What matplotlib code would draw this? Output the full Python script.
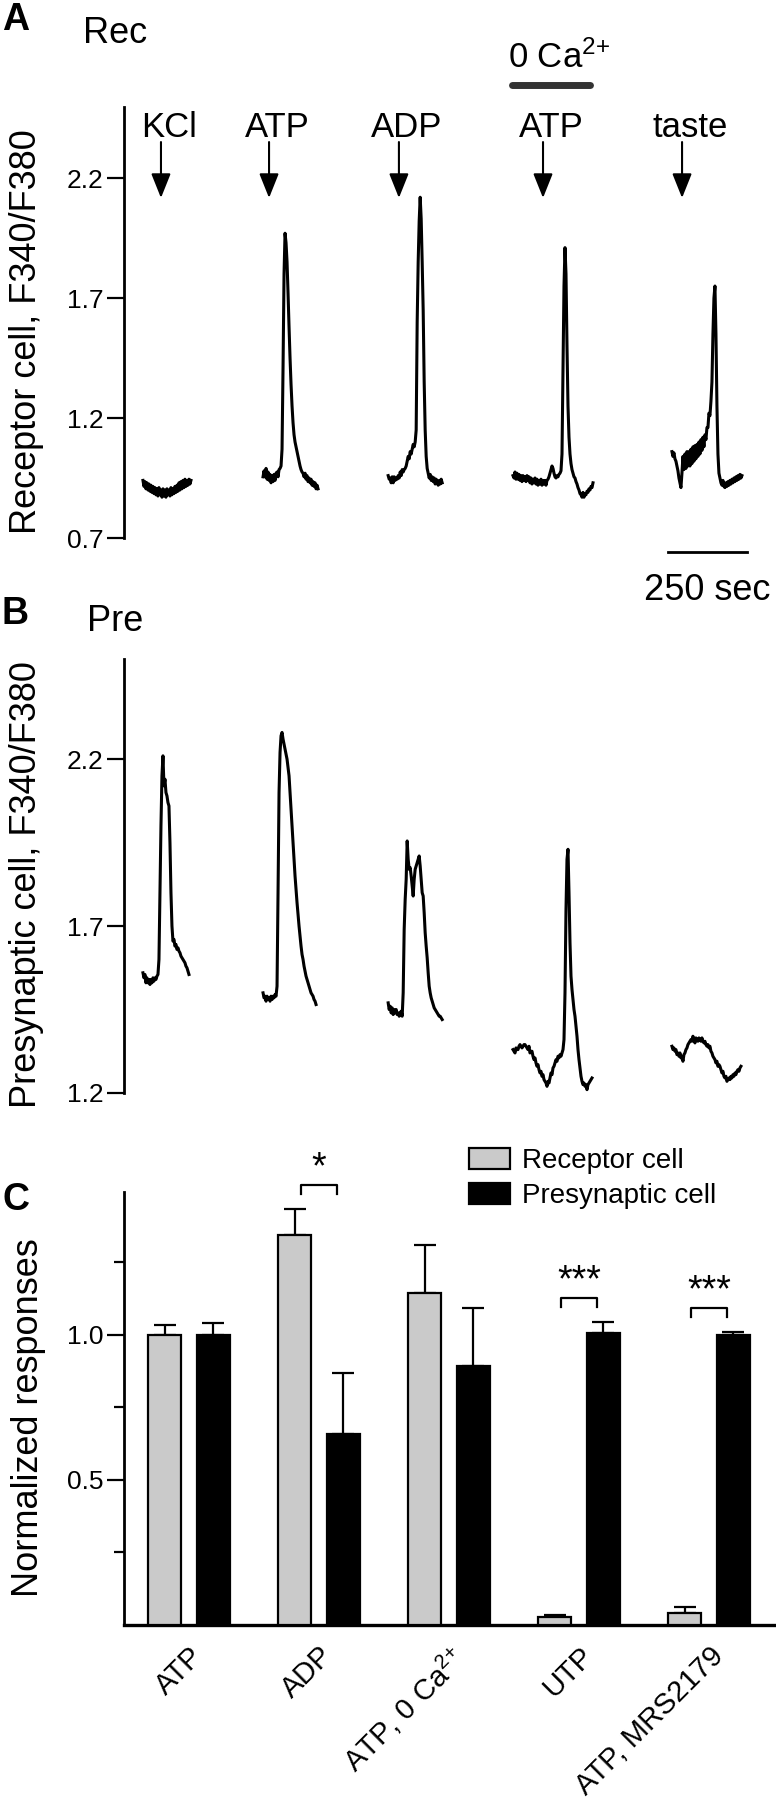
import numpy as np
import matplotlib
matplotlib.use('Agg')
import matplotlib.pyplot as plt

plt.rcParams['font.family'] = ['Liberation Sans', 'DejaVu Sans']
plt.rcParams['mathtext.fontset'] = 'custom'
plt.rcParams['mathtext.rm'] = 'Liberation Sans'
plt.rcParams['mathtext.it'] = 'Liberation Sans:italic'
plt.rcParams['mathtext.bf'] = 'Liberation Sans:bold'

# ---------------- data ----------------
SAMPLE_S = 250 / 79.0           # seconds between samples of the traces
stim_labels = ['KCl', 'ATP', 'ADP', 'ATP', 'taste']
stim_times = [117, 459, 870, 1326, 1766]        # s, arrow positions
trace_starts = [60, 440, 836, 1231, 1734]       # s, start of each trace
zero_ca_period = [1228, 1475]                   # s
scale_bar = [1722, 1972]                        # 250 s

# Receptor cell F340/F380 traces (panel A)
rec_kcl = [0.94, 0.915, 0.935, 0.905, 0.93, 0.90, 0.925, 0.895, 0.92, 0.89, 0.915, 0.885, 0.91, 0.88,
           0.905, 0.875, 0.91, 0.88, 0.90, 0.87, 0.905, 0.875, 0.90, 0.87, 0.905, 0.88, 0.90, 0.875,
           0.91, 0.88, 0.905, 0.885, 0.915, 0.89, 0.92, 0.895, 0.93, 0.90, 0.935, 0.905, 0.94, 0.91,
           0.945, 0.915, 0.94, 0.92, 0.945, 0.925, 0.94]
rec_atp = [0.955, 0.98, 0.955, 0.99, 0.945, 0.975, 0.94, 0.965, 0.93, 0.96, 0.935, 0.965, 0.94, 0.97,
           0.975, 0.955, 0.985, 0.99, 1.00, 1.07, 1.41, 1.80, 1.97, 1.93, 1.85, 1.72, 1.58, 1.45, 1.34,
           1.25, 1.18, 1.13, 1.10, 1.08, 1.06, 1.04, 1.02, 1.00, 0.985, 0.975, 0.97, 0.955, 0.97, 0.945,
           0.96, 0.935, 0.95, 0.93, 0.945, 0.92, 0.935, 0.915, 0.93, 0.905, 0.92, 0.905]
rec_adp = [0.96, 0.945, 0.95, 0.93, 0.955, 0.93, 0.955, 0.94, 0.95, 0.945, 0.96, 0.95, 0.975, 0.96,
           0.985, 0.975, 0.985, 0.99, 1.00, 1.02, 1.04, 1.03, 1.06, 1.05, 1.07, 1.09, 1.08, 1.10, 1.15,
           1.60, 1.85, 2.02, 2.12, 2.03, 1.85, 1.65, 1.35, 1.15, 1.04, 0.99, 0.97, 0.95, 0.965, 0.94,
           0.955, 0.935, 0.95, 0.925, 0.945, 0.93, 0.92, 0.94, 0.925, 0.945, 0.93]
rec_atp_0ca = [0.96, 0.95, 0.975, 0.945, 0.97, 0.945, 0.965, 0.94, 0.96, 0.935, 0.96, 0.94, 0.955, 0.935,
               0.96, 0.94, 0.955, 0.93, 0.95, 0.925, 0.945, 0.93, 0.95, 0.925, 0.945, 0.92, 0.94,
               0.925, 0.945, 0.92, 0.94, 0.925, 0.94, 0.92, 0.94, 0.945, 0.955, 0.97, 0.985, 1.00,
               0.99, 0.97, 0.955, 0.95, 0.96, 0.955, 0.965, 0.97, 0.98, 1.05, 1.40, 1.75, 1.91, 1.80,
               1.50, 1.25, 1.12, 1.05, 1.01, 0.985, 0.97, 0.955, 0.95, 0.935, 0.925, 0.91, 0.90, 0.885,
               0.88, 0.87, 0.89, 0.87, 0.885, 0.88, 0.895, 0.89, 0.905, 0.9, 0.915, 0.91, 0.93]
rec_taste = [1.06, 1.04, 1.055, 1.03, 1.02, 1.00, 0.98, 0.95, 0.93, 0.91, 0.97, 1.04, 0.985, 1.05, 0.99,
             1.06, 1.00, 1.06, 1.00, 1.07, 1.01, 1.08, 1.02, 1.085, 1.03, 1.09, 1.04, 1.10, 1.05, 1.11,
             1.065, 1.12, 1.08, 1.13, 1.11, 1.16, 1.16, 1.22, 1.21, 1.27, 1.35, 1.55, 1.70, 1.75, 1.55,
             1.25, 1.05, 0.97, 0.95, 0.93, 0.92, 0.94, 0.915, 0.91, 0.93, 0.915, 0.935, 0.92, 0.94,
             0.925, 0.945, 0.93, 0.95, 0.935, 0.955, 0.94, 0.96, 0.945, 0.965, 0.95, 0.96]

# Presynaptic cell F340/F380 traces (panel B)
pre_kcl = [1.56, 1.545, 1.555, 1.53, 1.545, 1.53, 1.54, 1.525, 1.54, 1.53, 1.545, 1.535, 1.545, 1.54,
           1.55, 1.555, 1.60, 1.80, 2.00, 2.15, 2.21, 2.12, 2.14, 2.10, 2.09, 2.07, 2.06, 1.95, 1.80,
           1.70, 1.655, 1.66, 1.64, 1.645, 1.63, 1.635, 1.625, 1.62, 1.61, 1.605, 1.60, 1.595, 1.59,
           1.58, 1.575, 1.565, 1.555]
pre_atp = [1.50, 1.485, 1.49, 1.475, 1.49, 1.48, 1.485, 1.475, 1.49, 1.48, 1.49, 1.485, 1.495, 1.49,
           1.52, 1.80, 2.10, 2.22, 2.27, 2.28, 2.26, 2.245, 2.23, 2.215, 2.20, 2.175, 2.15, 2.10, 2.05,
           2.00, 1.95, 1.90, 1.85, 1.81, 1.77, 1.735, 1.70, 1.67, 1.64, 1.615, 1.60, 1.58, 1.565, 1.55,
           1.54, 1.53, 1.52, 1.51, 1.50, 1.495, 1.49, 1.48, 1.475, 1.465]
pre_adp = [1.47, 1.45, 1.46, 1.44, 1.455, 1.435, 1.45, 1.44, 1.45, 1.435, 1.44, 1.43, 1.44, 1.445, 1.43,
           1.50, 1.69, 1.78, 1.84, 1.955, 1.90, 1.87, 1.875, 1.85, 1.82, 1.79, 1.84, 1.87, 1.88, 1.89,
           1.90, 1.91, 1.88, 1.84, 1.80, 1.79, 1.74, 1.68, 1.64, 1.605, 1.56, 1.52, 1.50, 1.485, 1.475,
           1.465, 1.455, 1.45, 1.445, 1.44, 1.435, 1.43, 1.43, 1.425, 1.42]
pre_atp_0ca = [1.33, 1.325, 1.32, 1.335, 1.33, 1.33, 1.34, 1.345, 1.34, 1.335, 1.34, 1.345, 1.345, 1.34,
               1.335, 1.33, 1.34, 1.32, 1.325, 1.325, 1.31, 1.30, 1.305, 1.29, 1.28, 1.285, 1.27, 1.26,
               1.265, 1.25, 1.255, 1.24, 1.235, 1.23, 1.22, 1.235, 1.23, 1.245, 1.26, 1.255, 1.275,
               1.28, 1.29, 1.30, 1.295, 1.31, 1.305, 1.315, 1.31, 1.32, 1.33, 1.36, 1.50, 1.75, 1.90,
               1.93, 1.80, 1.65, 1.55, 1.51, 1.48, 1.45, 1.43, 1.40, 1.37, 1.33, 1.30, 1.275, 1.25,
               1.235, 1.225, 1.23, 1.22, 1.225, 1.21, 1.225, 1.23, 1.235, 1.24, 1.245]
pre_taste = [1.34, 1.33, 1.335, 1.325, 1.33, 1.315, 1.32, 1.31, 1.32, 1.305, 1.31, 1.295, 1.315, 1.32,
             1.33, 1.335, 1.345, 1.35, 1.355, 1.36, 1.355, 1.37, 1.36, 1.35, 1.365, 1.36, 1.355, 1.365,
             1.36, 1.355, 1.365, 1.355, 1.35, 1.355, 1.345, 1.34, 1.345, 1.335, 1.34, 1.325, 1.32,
             1.31, 1.305, 1.30, 1.29, 1.295, 1.28, 1.285, 1.28, 1.27, 1.26, 1.265, 1.25, 1.245, 1.25,
             1.235, 1.24, 1.245, 1.24, 1.25, 1.245, 1.255, 1.25, 1.26, 1.255, 1.265, 1.27, 1.265,
             1.275, 1.28]

rec_traces = [rec_kcl, rec_atp, rec_adp, rec_atp_0ca, rec_taste]
pre_traces = [pre_kcl, pre_atp, pre_adp, pre_atp_0ca, pre_taste]

# Panel C: normalized responses
categories = ['ATP', 'ADP', r'ATP, 0 Ca$^{2\!+}$', 'UTP', 'ATP, MRS2179']
receptor_mean = [1.0, 1.345, 1.145, 0.029, 0.040]
receptor_sem = [0.035, 0.09, 0.165, 0.004, 0.021]
presyn_mean = [1.0, 0.66, 0.893, 1.007, 1.0]
presyn_sem = [0.04, 0.21, 0.20, 0.038, 0.011]
significance = [(1, '*'), (3, '***'), (4, '***')]

# ---------------- figure ----------------
W, H = 776, 1800
fig = plt.figure(figsize=(W / 100, H / 100), dpi=100)


def fx(px):
    return px / W


def fy(py):
    return 1 - py / H


XMAX = 652 * SAMPLE_S
LW_AX = 2.0


def trace_axes(rect, ylim, yticks):
    ax = fig.add_axes(rect)
    ax.set_xlim(0, XMAX)
    ax.set_ylim(*ylim)
    for s in ['top', 'right', 'bottom']:
        ax.spines[s].set_visible(False)
    ax.spines['left'].set_linewidth(LW_AX)
    ax.set_xticks([])
    ax.set_yticks(yticks)
    ax.set_yticklabels([f'{v:.1f}' for v in yticks])
    ax.tick_params(axis='y', length=12, width=1.6, pad=3, labelsize=19)
    ax.patch.set_alpha(0)
    return ax


# Panel A
axA = trace_axes([fx(124), fy(538), fx(652), 431 / H], (0.7, 2.496), [0.7, 1.2, 1.7, 2.2])
for t0, vals in zip(trace_starts, rec_traces):
    t = t0 + np.arange(len(vals)) * SAMPLE_S
    axA.plot(t, vals, color='black', lw=2.2, solid_joinstyle='round')

for lab, ts in zip(stim_labels, stim_times):
    axA.annotate('', xy=(ts, 2.117), xytext=(ts, 2.35),
                 arrowprops=dict(arrowstyle='-|>,head_length=0.75,head_width=0.3',
                                 mutation_scale=20, lw=1.5, color='black',
                                 shrinkA=0, shrinkB=0), annotation_clip=False)
    axA.text(ts + 25, 2.371, lab, ha='center', va='baseline', fontsize=25)

axA.plot(zero_ca_period, [2.5875, 2.5875], color='#333333', lw=5, solid_capstyle='round',
         clip_on=False)
axA.text(1215, 2.658, r'0 Ca$^{2\!+}$', ha='left', va='baseline', fontsize=25)

axA.plot(scale_bar, [0.642, 0.642], color='black', lw=2.0, clip_on=False)
axA.text(np.mean(scale_bar), 0.442, '250 sec', ha='center', va='baseline', fontsize=26)

fig.text(fx(2), fy(30), 'A', fontsize=27, fontweight='bold', va='baseline', ha='left')
fig.text(fx(83), fy(43), 'Rec', fontsize=26, va='baseline', ha='left')
fig.text(fx(27), fy(332), 'Receptor cell, F340/F380', rotation=90, fontsize=26,
         ha='center', va='center')

# Panel B
axB = trace_axes([fx(124), fy(1093), fx(652), 434 / H], (1.2, 2.5), [1.2, 1.7, 2.2])
for t0, vals in zip(trace_starts, pre_traces):
    t = t0 + np.arange(len(vals)) * SAMPLE_S
    axB.plot(t, vals, color='black', lw=2.2, solid_joinstyle='round')

fig.text(fx(2), fy(624), 'B', fontsize=27, fontweight='bold', va='baseline', ha='left')
fig.text(fx(87), fy(631), 'Pre', fontsize=26, va='baseline', ha='left')
fig.text(fx(27), fy(885), 'Presynaptic cell, F340/F380', rotation=90, fontsize=26,
         ha='center', va='center')

# Panel C
axC = fig.add_axes([fx(124), fy(1625), fx(652), 433 / H])
x = np.arange(len(categories))
bw = 0.254
off = 0.188
b1 = axC.bar(x - off, receptor_mean, bw, color='#cacaca', edgecolor='black', lw=1.6,
             label='Receptor cell', zorder=3)
b2 = axC.bar(x + off, presyn_mean, bw, color='black', edgecolor='black', lw=1.6,
             label='Presynaptic cell', zorder=3)
axC.errorbar(x - off, receptor_mean, yerr=[np.zeros(len(x)), receptor_sem], fmt='none',
             ecolor='black', elinewidth=1.6, capsize=8, capthick=1.6, zorder=2)
axC.errorbar(x + off, presyn_mean, yerr=[np.zeros(len(x)), presyn_sem], fmt='none',
             ecolor='black', elinewidth=1.6, capsize=8, capthick=1.6, zorder=2)

axC.set_xlim(-0.5, 4.515)
axC.set_ylim(0, 1.493)
for s in ['top', 'right']:
    axC.spines[s].set_visible(False)
axC.spines['left'].set_linewidth(LW_AX)
axC.spines['bottom'].set_linewidth(LW_AX + 0.4)
axC.set_yticks([0.5, 1.0])
axC.set_yticklabels(['0.5', '1.0'])
axC.set_yticks([0.25, 0.75, 1.25], minor=True)
axC.tick_params(axis='y', which='major', length=12, width=1.6, pad=3, labelsize=19)
axC.tick_params(axis='y', which='minor', length=7, width=1.6)
axC.set_xticks(x)
axC.set_xticklabels(categories, rotation=45, ha='right', rotation_mode='anchor', fontsize=21)
axC.tick_params(axis='x', length=0, pad=12)

for gi, stars in significance:
    top = max(receptor_mean[gi] + receptor_sem[gi], presyn_mean[gi] + presyn_sem[gi])
    yb = top + 0.05
    xl, xr = gi - 0.135, gi + 0.135
    axC.plot([xl, xl, xr, xr], [yb, yb + 0.033, yb + 0.033, yb], color='black', lw=1.6,
             clip_on=False)
    axC.text(gi, yb + 0.055, stars, ha='center', va='baseline', fontsize=27)

axC.legend(handles=[b1, b2], loc='upper left', bbox_to_anchor=(fx(469), fy(1148)),
           bbox_transform=fig.transFigure, frameon=False, fontsize=20, borderpad=0,
           borderaxespad=0, handlelength=1.47, handleheight=0.8, handletextpad=0.45,
           labelspacing=0.3)

fig.text(fx(2), fy(1210), 'C', fontsize=27, fontweight='bold', va='baseline', ha='left')
fig.text(fx(29), fy(1418), 'Normalized responses', rotation=90, fontsize=26,
         ha='center', va='center')

fig.savefig('out.png', dpi=100)
